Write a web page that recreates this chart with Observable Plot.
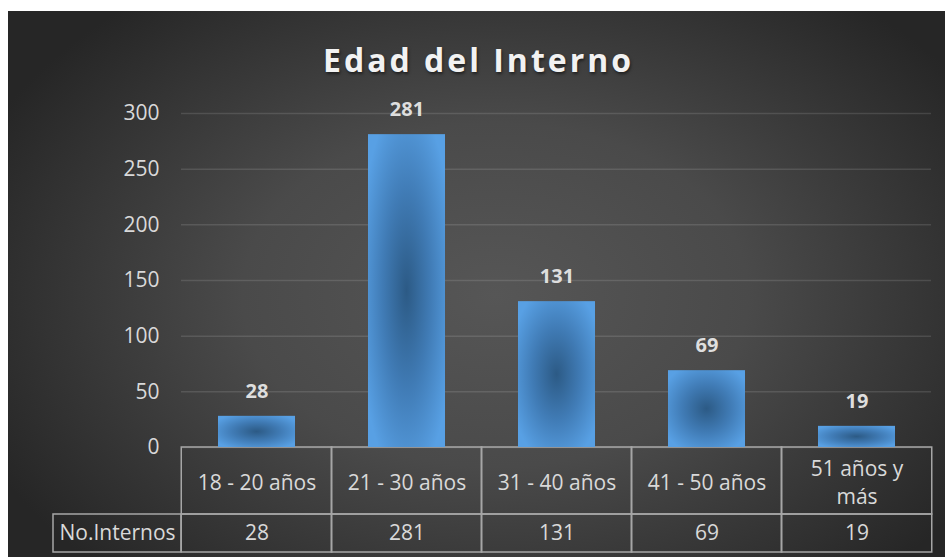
<!DOCTYPE html>
<html>
<head>
<meta charset="utf-8">
<script src="https://cdn.jsdelivr.net/npm/d3@7"></script>
<script src="https://cdn.jsdelivr.net/npm/@observablehq/plot@0.6"></script>
<style>
  html, body { margin: 0; padding: 0; background: #ffffff; }
  body { width: 945px; height: 557px; position: relative; overflow: hidden; font-family: "Open Sans", sans-serif; }
  #card {
    position: absolute; left: 8px; top: 11px; width: 937px; height: 546px;
    background: radial-gradient(ellipse 60% 70% at 52% 52%, #565656 0%, #4a4a4a 45%, #262626 100%);
  }
  #title {
    position: absolute; left: 0; top: 37px; width: 957px; text-align: center;
    font-family: "Open Sans", sans-serif; font-weight: 700; font-size: 32px; letter-spacing: 3px;
    color: #f2f2f2; text-shadow: 1px 2px 3px rgba(0,0,0,0.5); line-height: 46px;
  }
  #chart { position: absolute; left: 0; top: 0; }
  g[aria-label="columns"] rect { filter: drop-shadow(0px 0px 3px rgba(0,0,0,0.55)); }
</style>
</head>
<body>
<div id="card"></div>
<div id="title"></div>
<div id="chart"></div>
<script>
// ---- data ----
const chartTitle = "Edad del Interno";
const categories = ["18 - 20 años", "21 - 30 años", "31 - 40 años", "41 - 50 años", "51 años y más"];
const tickLabels = ["18 - 20 años", "21 - 30 años", "31 - 40 años", "41 - 50 años", "51 años y\nmás"];
const values = [28, 281, 131, 69, 19];
const yTicks = [0, 50, 100, 150, 200, 250, 300];
const rowHeader = "No.Internos";

const table = categories.map((c, i) => ({category: c, label: tickLabels[i], value: values[i]}));

// ---- layout ----
const W = 945, H = 557;
const mL = 181, mR = 14, mT = 113, mB = 110;
const pad = 0.49;
const step = (W - mL - mR) / categories.length;
const grow = -(step * pad) / 2;      // widen a band to the full column
const row1 = 67, row2 = 38, headerW = 128;
const txt = "#d9d9d9", border = "#a6a6a6";
const fs = 21;

document.getElementById("title").textContent = chartTitle;

const plot = Plot.plot({
  width: W, height: H,
  marginLeft: mL, marginRight: mR, marginTop: mT, marginBottom: mB,
  style: {background: "transparent", color: txt, fontFamily: "'Open Sans', sans-serif", fontSize: fs + "px", overflow: "visible"},
  x: {domain: categories, paddingInner: pad, paddingOuter: pad / 2, axis: null},
  y: {domain: [0, 300], axis: null},
  marks: [
    Plot.gridY(yTicks, {stroke: "#ffffff", strokeOpacity: 0.12, strokeWidth: 1.5}),
    Plot.axisY(yTicks, {tickSize: 0, tickPadding: 22, fontSize: fs, fill: txt, label: null}),
    // data table: first row (category labels)
    Plot.barY(table, {x: "category", y1: 0, y2: 0, insetLeft: grow, insetRight: grow,
      insetTop: 0, insetBottom: -row1, fill: "none", stroke: border, strokeWidth: 1.5}),
    // data table: second row (values)
    Plot.barY(table, {x: "category", y1: 0, y2: 0, insetLeft: grow, insetRight: grow,
      insetTop: row1, insetBottom: -(row1 + row2), fill: "none", stroke: border, strokeWidth: 1.5}),
    // row header cell
    Plot.rect([rowHeader], {y1: 0, y2: 0, insetLeft: -headerW, insetRight: W - mL - mR,
      insetTop: row1, insetBottom: -(row1 + row2), fill: "none", stroke: border, strokeWidth: 1.5}),
    // bars
    Plot.barY(table, {x: "category", y: "value", fill: "url(#barGrad)", ariaLabel: "columns"}),
    // value labels above bars
    Plot.text(table, {x: "category", y: "value", text: d => String(d.value), dy: -25,
      lineAnchor: "middle", fontWeight: "bold", fontSize: 20, fill: "#dedede"}),
    // table text
    Plot.text(table, {x: "category", y: 0, text: "label", dy: row1 / 2, lineAnchor: "middle",
      lineHeight: 1.33, fontSize: fs, fill: txt}),
    Plot.text(table, {x: "category", y: 0, text: d => String(d.value), dy: row1 + row2 / 2,
      lineAnchor: "middle", fontSize: fs, fill: txt}),
    Plot.text([rowHeader], {frameAnchor: "bottom-left", text: d => d, dx: -headerW / 2,
      dy: row1 + row2 / 2, textAnchor: "middle", lineAnchor: "middle", fontSize: fs, fill: txt})
  ]
});

d3.select(plot).insert("defs", ":first-child").html(`
  <radialGradient id="barGrad" cx="0.5" cy="0.5" r="0.62">
    <stop offset="0" stop-color="#2c5a85"/>
    <stop offset="0.5" stop-color="#407bb5"/>
    <stop offset="1" stop-color="#58a0e4"/>
  </radialGradient>`);

document.getElementById("chart").appendChild(plot);
</script>
</body>
</html>
